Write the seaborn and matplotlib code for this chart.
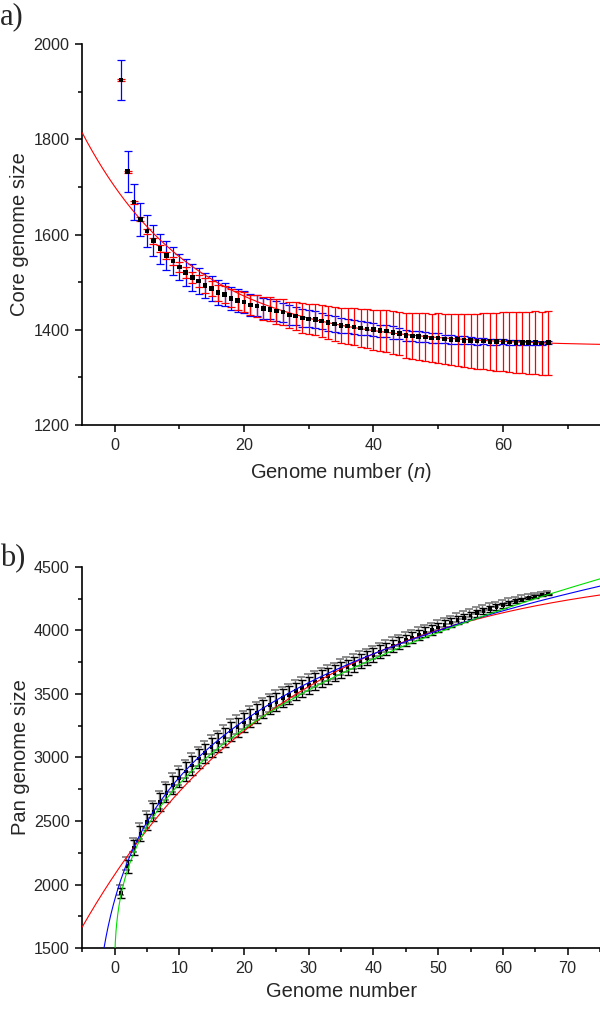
import numpy as np
import pandas as pd
import matplotlib
matplotlib.use("Agg")
import matplotlib.pyplot as plt
import matplotlib.transforms as mtransforms
from matplotlib.ticker import MultipleLocator
import seaborn as sns

# genome counts 1..67
n_genomes = list(range(1, 68))

# a) core genome size, mean per n
core_size = [1924, 1732, 1668, 1632, 1607, 1587, 1570, 1556, 1544, 1532,
             1520, 1510, 1502, 1493, 1486, 1478, 1474, 1466, 1462, 1458,
             1452, 1450, 1445, 1443, 1439, 1437, 1431, 1429, 1425, 1423,
             1421, 1418, 1415, 1412, 1409, 1408, 1406, 1404, 1402, 1400,
             1398, 1397, 1394, 1392, 1388, 1387, 1386, 1385, 1383, 1383,
             1381, 1380, 1379, 1378, 1377, 1376, 1376, 1375, 1375, 1375,
             1374, 1373, 1373, 1373, 1373, 1372, 1373]
# blue error bars
core_err_blue = [42, 43, 37, 35, 33, 32, 31, 30, 29, 28,
                 28, 28, 27, 27, 26, 26, 25, 24, 24, 23,
                 23, 22, 22, 21, 21, 20, 20, 19, 19, 18,
                 18, 17, 17, 16, 16, 15, 15, 14, 14, 14,
                 13, 13, 13, 12, 12, 11, 11, 10, 10, 10,
                 9, 9, 8, 8, 7, 7, 6, 6, 6, 5,
                 5, 5, 4, 4, 4, 3, 3]
# red error bars
core_err_red = [2, 2, 3, 4, 5, 6, 7, 8, 9, 10,
                11, 12, 13, 15, 16, 17, 18, 19, 20, 21,
                22, 23, 24, 25, 26, 27, 28, 29, 31, 32,
                33, 34, 35, 36, 37, 38, 39, 40, 41, 42,
                43, 44, 45, 46, 47, 48, 49, 50, 51, 52,
                53, 54, 55, 56, 57, 58, 59, 60, 61, 62,
                63, 64, 64, 65, 66, 66, 67]

# b) pan genome size, mean per n
pan_size = [1934, 2144, 2292, 2402, 2491, 2570, 2647, 2718, 2782, 2838,
            2890, 2938, 2991, 3033, 3080, 3117, 3159, 3207, 3238, 3275,
            3311, 3348, 3380, 3411, 3438, 3467, 3490, 3522, 3546, 3569,
            3598, 3622, 3643, 3664, 3690, 3711, 3735, 3760, 3783, 3808,
            3833, 3856, 3880, 3902, 3923, 3944, 3965, 3985, 4005, 4024,
            4044, 4063, 4082, 4100, 4118, 4135, 4152, 4169, 4185, 4200,
            4215, 4229, 4243, 4256, 4267, 4277, 4287]
pan_err = [40, 50, 56, 62, 65, 68, 70, 72, 73, 74,
           74, 75, 75, 75, 75, 75, 75, 74, 74, 74,
           73, 73, 72, 71, 71, 70, 69, 68, 68, 67,
           66, 65, 64, 63, 62, 60, 58, 56, 55, 53,
           51, 49, 47, 45, 44, 42, 40, 39, 37, 36,
           35, 33, 32, 30, 29, 27, 26, 24, 22, 20,
           18, 16, 14, 11, 9, 6, 4]

# fitted curve parameters
core_fit = (1365, 336, 17.3)            # C + A*exp(-x/t)
pan_fit_red = (4513, 2436, 32.0)        # C - A*exp(-x/t)
pan_fit_blue = (-7299, 8212, 4.0, 0.08) # C + A*(x+s)^b
pan_fit_green = (1216, 704, 0.35)       # C + A*x^b

sns.set_theme(style="ticks")
plt.rcParams["font.family"] = ["Liberation Sans", "DejaVu Sans"]
plt.rcParams["mathtext.fontset"] = "custom"
plt.rcParams["mathtext.it"] = "Liberation Sans:italic"
plt.rcParams["mathtext.rm"] = "Liberation Sans"

fig = plt.figure(figsize=(6, 10.11), dpi=100)
ax1 = fig.add_axes([0.137, 0.5796, 0.863, 0.3769])
ax2 = fig.add_axes([0.137, 0.0623, 0.863, 0.3769])

core_df = pd.DataFrame({"n": n_genomes, "size": core_size,
                        "sd_blue": core_err_blue, "sd_red": core_err_red})
pan_df = pd.DataFrame({"n": n_genomes, "size": pan_size, "sd": pan_err})
xs = np.linspace(-5, 75, 800)

# ---- panel a ----
ax1.errorbar(core_df["n"], core_df["size"], yerr=core_df["sd_blue"], fmt="none",
             ecolor="blue", elinewidth=0.9, capsize=2.6, capthick=0.9, zorder=2)
ax1.errorbar(core_df["n"], core_df["size"], yerr=core_df["sd_red"], fmt="none",
             ecolor="red", elinewidth=0.9, capsize=2.6, capthick=0.9, zorder=3)
c, a, t = core_fit
sns.lineplot(x=xs, y=c + a * np.exp(-xs / t), color="red", linewidth=0.8, ax=ax1, zorder=4)
sns.scatterplot(data=core_df, x="n", y="size", marker="s", s=11, color="black",
                edgecolor="none", ax=ax1, zorder=5)

ax1.set_xlim(-5, 75)
ax1.set_ylim(1200, 2000)
ax1.xaxis.set_major_locator(MultipleLocator(20))
ax1.xaxis.set_minor_locator(MultipleLocator(10))
ax1.yaxis.set_major_locator(MultipleLocator(200))
ax1.yaxis.set_minor_locator(MultipleLocator(100))
ax1.set_xlabel("Genome number ($\\mathit{n}$)", fontsize=14.5, labelpad=6)
ax1.set_ylabel("Core genome size", fontsize=14.5, labelpad=3)

# ---- panel b ----
shift = mtransforms.ScaledTranslation(-0.8 / 72, 1.8 / 72, fig.dpi_scale_trans)
ax2.errorbar(pan_df["n"], pan_df["size"], yerr=pan_df["sd"], fmt="none",
             ecolor="#7a7a7a", elinewidth=1.0, capsize=2.7, capthick=1.2,
             transform=ax2.transData + shift, zorder=2)
ax2.errorbar(pan_df["n"], pan_df["size"], yerr=pan_df["sd"], fmt="none",
             ecolor="black", elinewidth=0.9, capsize=2.6, capthick=1.0, zorder=3)
sns.scatterplot(data=pan_df, x="n", y="size", marker="s", s=7, color="black",
                edgecolor="none", ax=ax2, zorder=4)

c, a, t = pan_fit_red
sns.lineplot(x=xs, y=c - a * np.exp(-xs / t), color="red", linewidth=0.8, ax=ax2, zorder=5)
c, a, s0, b = pan_fit_blue
xb = xs[xs > -s0]
sns.lineplot(x=xb, y=c + a * (xb + s0) ** b, color="blue", linewidth=0.8, ax=ax2, zorder=6)
c, a, b = pan_fit_green
xg = np.linspace(0.001, 75, 2000)
sns.lineplot(x=xg, y=c + a * xg ** b, color="#00dd00", linewidth=0.8, ax=ax2, zorder=7)

ax2.set_xlim(-5, 75)
ax2.set_ylim(1500, 4500)
ax2.xaxis.set_major_locator(MultipleLocator(10))
ax2.xaxis.set_minor_locator(MultipleLocator(5))
ax2.yaxis.set_major_locator(MultipleLocator(500))
ax2.yaxis.set_minor_locator(MultipleLocator(250))
ax2.set_xlabel("Genome number", fontsize=14.5, labelpad=5)
ax2.set_ylabel("Pan genome size", fontsize=14.5, labelpad=3)

for ax in (ax1, ax2):
    sns.despine(ax=ax)
    for side in ("left", "bottom"):
        ax.spines[side].set_color("black")
        ax.spines[side].set_linewidth(1.2)
    ax.tick_params(which="major", direction="out", length=5, width=1.1,
                   color="black", labelsize=11.6, pad=4)
    ax.tick_params(which="minor", direction="out", length=3, width=1.1, color="black")
    ax.grid(False)

fig.text(0.0, 0.998, "a)", family="Liberation Serif", fontsize=22, va="top", ha="left")
fig.text(0.0, 0.462, "b)", family="Liberation Serif", fontsize=22, va="top", ha="left")

fig.savefig("out.png", dpi=100)
